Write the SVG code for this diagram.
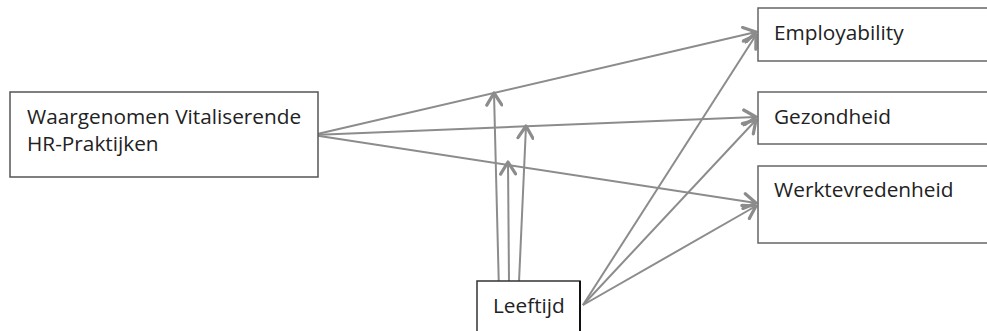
<svg xmlns="http://www.w3.org/2000/svg" width="987" height="331" viewBox="0 0 987 331">
  <style>
    .box { fill: #ffffff; stroke: #666666; stroke-width: 1.5; }
    .lbl { font-family: "Open Sans", "Liberation Sans", sans-serif; font-size: 20.8px; fill: #222222; }
    .edge { fill: none; stroke: #8c8c8c; stroke-width: 2; marker-end: url(#chev); }
  </style>
  <defs>
    <marker id="chev" viewBox="0 0 16 18" refX="14" refY="9" markerWidth="16" markerHeight="18" markerUnits="userSpaceOnUse" orient="auto">
      <path d="M2,1.5 L14,9 L2,16.5" fill="none" stroke="#8c8c8c" stroke-width="3.2" stroke-linecap="round" stroke-linejoin="round"/>
    </marker>
  </defs>

  <g id="connectors">
    <!-- HR practices to outcomes -->
    <line class="edge" x1="313" y1="135" x2="756" y2="32"/>
    <line class="edge" x1="313" y1="135" x2="756" y2="117"/>
    <line class="edge" x1="313" y1="135" x2="756" y2="203"/>
    <!-- age to outcomes -->
    <line class="edge" x1="583" y1="305" x2="756" y2="35"/>
    <line class="edge" x1="583" y1="305" x2="756" y2="120"/>
    <line class="edge" x1="583" y1="305" x2="756" y2="206"/>
    <!-- age moderating the three paths -->
    <line class="edge" x1="499" y1="292" x2="494" y2="93"/>
    <line class="edge" x1="509" y1="282" x2="508" y2="162"/>
    <line class="edge" x1="519" y1="282" x2="526" y2="126"/>
  </g>

  <g id="hr">
    <rect class="box" x="10" y="92" width="308" height="85" style="stroke:#555555"/>
    <text class="lbl" x="27" y="124">Waargenomen Vitaliserende</text>
    <text class="lbl" x="27" y="151">HR-Praktijken</text>
  </g>

  <g id="employability">
    <rect class="box" x="758" y="8" width="240" height="53"/>
    <text class="lbl" x="774" y="40">Employability</text>
  </g>

  <g id="gezondheid">
    <rect class="box" x="758" y="92" width="240" height="52"/>
    <text class="lbl" x="774" y="124">Gezondheid</text>
  </g>

  <g id="werktevredenheid">
    <rect class="box" x="758" y="166" width="240" height="77"/>
    <text class="lbl" x="774" y="197">Werktevredenheid</text>
  </g>

  <g id="leeftijd">
    <rect class="box" x="477" y="281" width="103" height="60" style="stroke:#333333"/>
    <line x1="580" y1="281" x2="580" y2="331" stroke="#111111" stroke-width="2"/>
    <text class="lbl" x="493" y="313">Leeftijd</text>
  </g>
</svg>
